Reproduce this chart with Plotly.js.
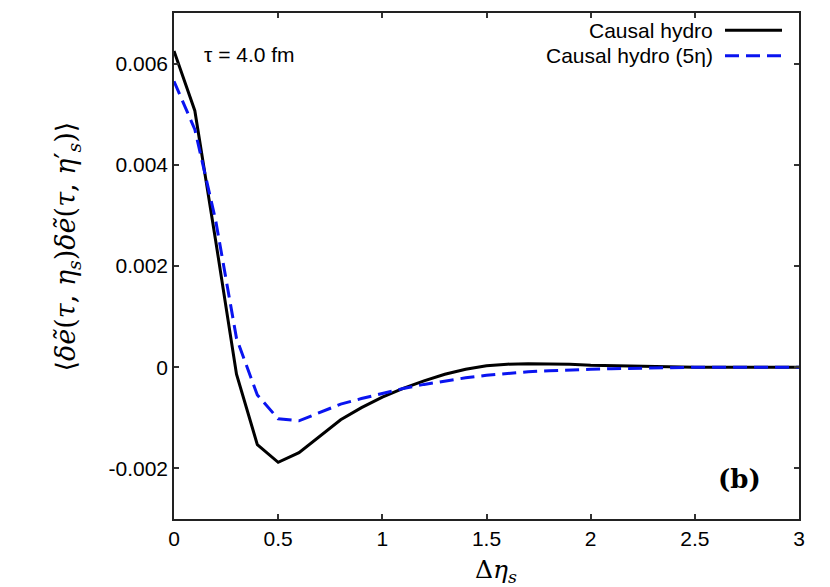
<!DOCTYPE html>
<html>
<head>
<meta charset="utf-8">
<script src="https://cdn.plot.ly/plotly-3.0.1.min.js"></script>
<style>
  html, body { margin: 0; padding: 0; background: #fff; }
  #plot { width: 830px; height: 587px; }
</style>
</head>
<body>
<div id="plot"></div>
<script>
// delta eta_s grid
let deta = [0, 0.1, 0.2, 0.3, 0.4, 0.5, 0.6, 0.7, 0.8, 0.9, 1.0,
  1.1, 1.2, 1.3, 1.4, 1.5, 1.6, 1.7, 1.8, 1.9, 2.0,
  2.1, 2.2, 2.3, 2.4, 2.5, 2.6, 2.7, 2.8, 2.9, 3.0];

// Causal hydro
let causal = [0.00625, 0.00507, 0.0025, -0.00014, -0.00153, -0.00188, -0.00169, -0.00136, -0.00104, -0.00080, -0.00059,
  -0.00042, -0.00027, -0.00014, -0.00004, 0.00003, 0.00006, 0.00007, 0.00007, 0.00006, 0.00004,
  0.00003, 0.00002, 0.00001, 0, 0, 0, 0, 0, 0, 0];

// Causal hydro (5 eta)
let causal5 = [0.00565, 0.0047, 0.0029, 0.00057, -0.00055, -0.00102, -0.00106, -0.00089, -0.00073, -0.00062, -0.00052,
  -0.00042, -0.00034, -0.00027, -0.00021, -0.00016, -0.00012, -0.00009, -0.00007, -0.00005, -0.00004,
  -0.00003, -0.00002, -0.00001, 0, 0, 0, 0, 0, 0, 0];

let xTicks = [0, 0.5, 1, 1.5, 2, 2.5, 3];
let xTickText = ["0", "0.5", "1", "1.5", "2", "2.5", "3"];
let yTicks = [-0.002, 0, 0.002, 0.004, 0.006];
let yTickText = ["-0.002", "0", "0.002", "0.004", "0.006"];

let sans = "Liberation Sans, Arial, sans-serif";
let serif = "DejaVu Serif, serif";
let blue = "#0a14f0";

let trace1 = {
  x: deta,
  y: causal,
  name: "Causal hydro",
  type: "scatter",
  mode: "lines",
  line: {color: "black", width: 3}
};

let trace2 = {
  x: deta,
  y: causal5,
  name: "Causal hydro (5η)",
  type: "scatter",
  mode: "lines",
  line: {color: blue, width: 3, dash: "14px,7px"}
};

let axisStyle = {
  showgrid: false,
  zeroline: false,
  showline: true,
  linecolor: "#222",
  linewidth: 1.5,
  mirror: "ticks",
  ticks: "inside",
  ticklen: 5,
  tickwidth: 1.5,
  tickcolor: "#333",
  tickfont: {family: sans, size: 21, color: "black"}
};

let layout = {
  width: 830,
  height: 587,
  margin: {l: 174, r: 31, t: 13, b: 68},
  paper_bgcolor: "white",
  plot_bgcolor: "white",
  showlegend: false,
  xaxis: Object.assign({}, axisStyle, {
    range: [0, 3],
    tickvals: xTicks,
    ticktext: xTickText
  }),
  yaxis: Object.assign({}, axisStyle, {
    range: [-0.003, 0.007],
    tickvals: yTicks,
    ticktext: yTickText
  }),
  annotations: [
    // axis titles
    {xref: "paper", yref: "paper", x: 0.515, y: -0.103, xanchor: "center", yanchor: "middle",
     text: "Δ<i>η</i><sub><i>s</i></sub>", showarrow: false,
     font: {family: serif, size: 25, color: "black"}},
    {xref: "paper", yref: "paper", x: -0.17, y: 0.538, xanchor: "center", yanchor: "middle",
     textangle: -90,
     text: "⟨<i>δẽ</i>(<i>τ</i>, <i>η</i><sub><i>s</i></sub>)<i>δẽ</i>(<i>τ</i>, <i>η</i>′<sub><i>s</i></sub>)⟩",
     showarrow: false,
     font: {family: serif, size: 27, color: "black"}},
    // labels
    {xref: "paper", yref: "paper", x: 0.044, y: 0.917, xanchor: "left", yanchor: "middle",
     text: "τ = 4.0 fm", showarrow: false,
     font: {family: sans, size: 21, color: "black"}},
    {xref: "paper", yref: "paper", x: 0.866, y: 0.966, xanchor: "right", yanchor: "middle",
     text: "Causal hydro", showarrow: false,
     font: {family: sans, size: 21, color: "black"}},
    {xref: "paper", yref: "paper", x: 0.866, y: 0.9156, xanchor: "right", yanchor: "middle",
     text: "Causal hydro (5η)", showarrow: false,
     font: {family: sans, size: 21, color: "black"}},
    {xref: "paper", yref: "paper", x: 0.905, y: 0.08, xanchor: "center", yanchor: "middle",
     text: "<b>(b)</b>", showarrow: false,
     font: {family: serif, size: 26, color: "black"}}
  ],
  shapes: [
    {type: "line", xref: "paper", yref: "paper", x0: 0.8816, x1: 0.9728, y0: 0.966, y1: 0.966,
     line: {color: "black", width: 3}},
    {type: "line", xref: "paper", yref: "paper", x0: 0.8816, x1: 0.9728, y0: 0.9156, y1: 0.9156,
     line: {color: blue, width: 3, dash: "14px,7px"}}
  ]
};

Plotly.newPlot("plot", [trace1, trace2], layout, {displayModeBar: false});
</script>
</body>
</html>
